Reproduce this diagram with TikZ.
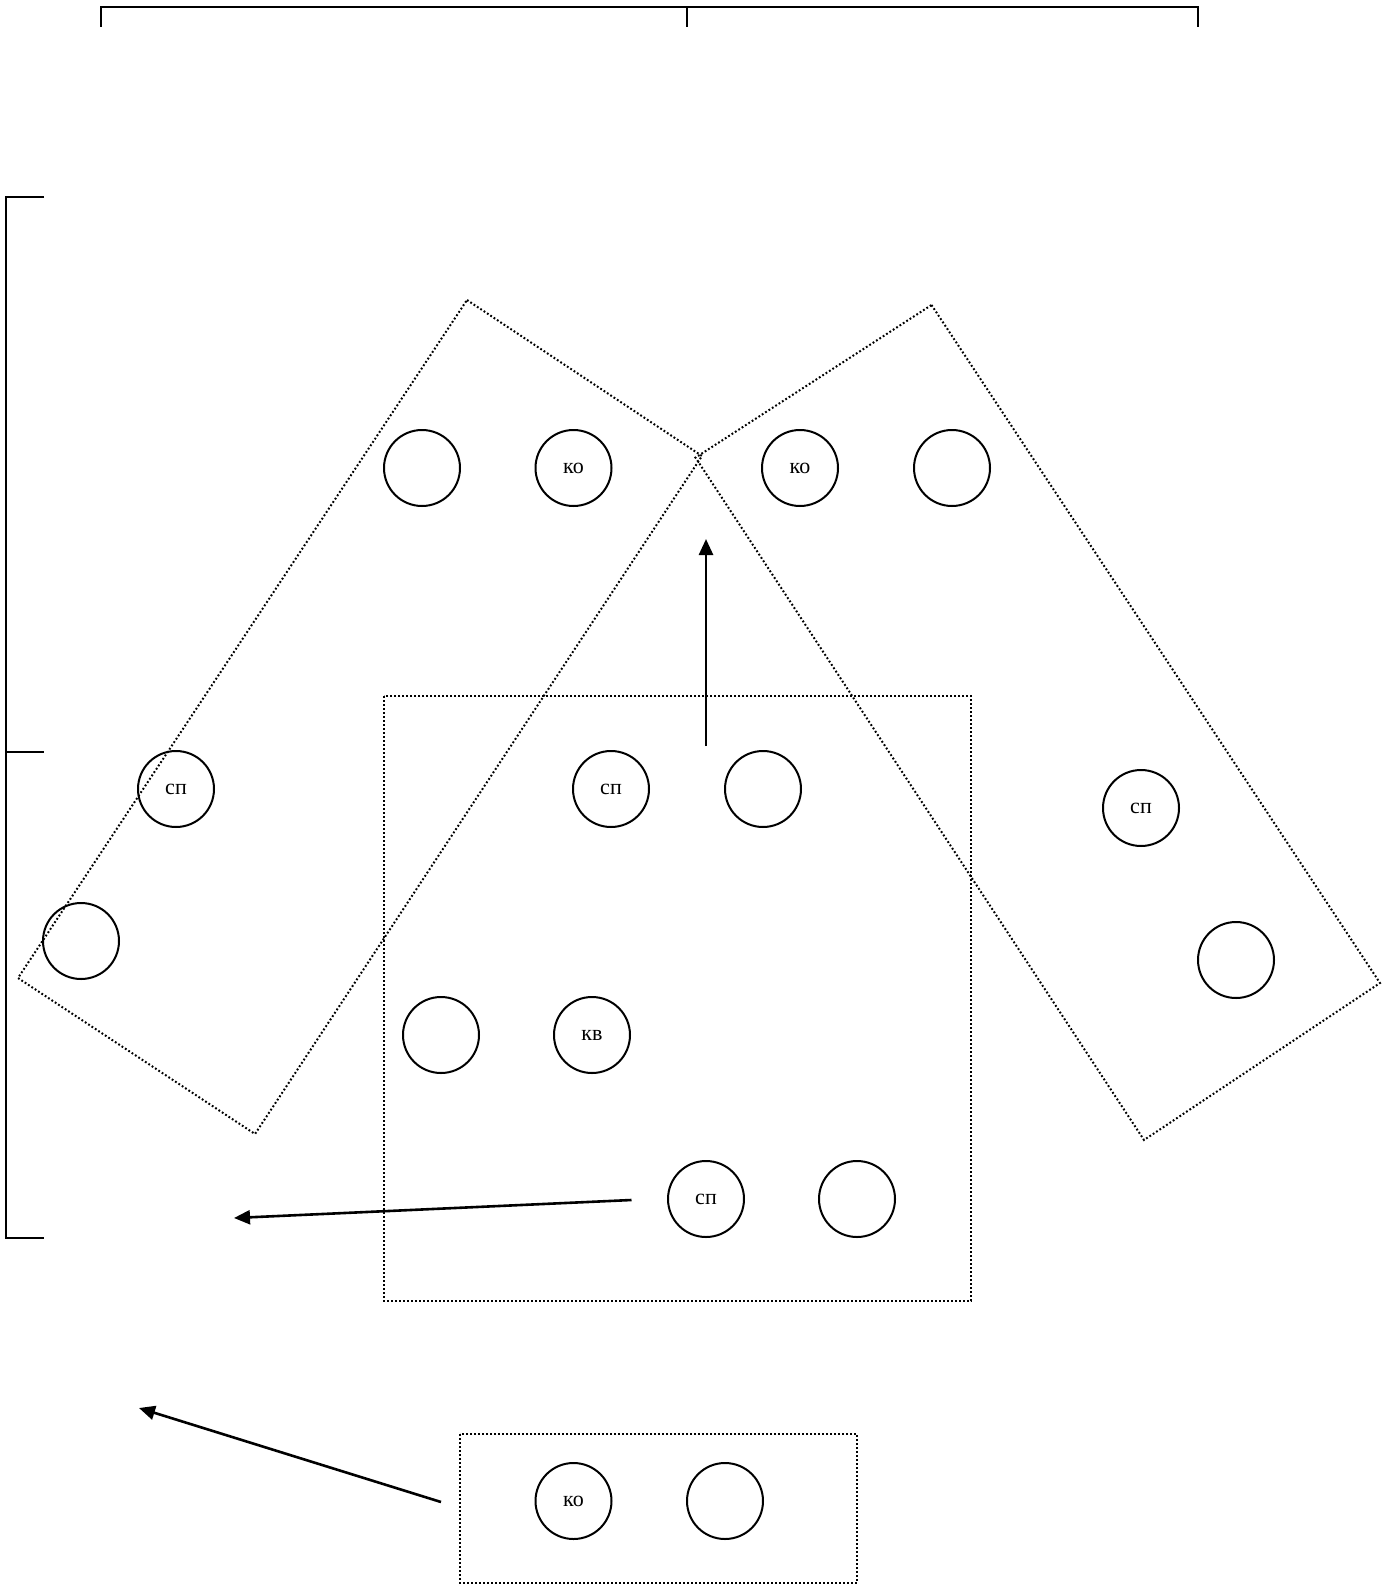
\documentclass[tikz,border=0pt]{standalone}
\usepackage{fontspec}
\setmainfont{Liberation Serif}
\usetikzlibrary{arrows.meta}
\tikzset{
  px/.style={x=0.5pt,y=-0.5pt},
  ring/.style={circle,draw,line width=1pt,minimum size=38pt,inner sep=0pt,font=\fontsize{11}{13}\selectfont},
  zone/.style={line width=1pt,dash pattern=on 0.9pt off 1.1pt},
  brk/.style={line width=1pt},
  mov/.style={line width=1.3pt,-{Triangle[length=8pt,width=7pt]}}
}
\begin{document}
\begin{tikzpicture}[px]
\useasboundingbox (0,0) rectangle (1381,1595);
% brackets
\draw[brk] (100.5,27) -- (100.5,7) -- (1198,7) -- (1198,27);
\draw[brk] (686.5,7) -- (686.5,27);
\draw[brk] (44,197) -- (6,197) -- (6,1238) -- (44,1238);
\draw[brk] (6,752) -- (44,752);
% dotted zones
\draw[zone] (467,300) -- (702,456) -- (255,1134) -- (18,978) -- cycle;
\draw[zone] (931.5,305) -- (1380,983) -- (1144,1140) -- (695.5,457.6) -- cycle;
\draw[zone] (384,696) rectangle (971,1301);
\draw[zone] (460,1434) rectangle (857,1583);
% circles
\node[ring] (c1) at (422,468) {};
\node[ring] (c2) at (573.5,468) {ко};
\node[ring] (c3) at (800,468) {ко};
\node[ring] (c4) at (952,468) {};
\node[ring] (c5) at (176,789) {сп};
\node[ring] (c6) at (81,941) {};
\node[ring] (c7) at (611,789) {сп};
\node[ring] (c8) at (763,789) {};
\node[ring] (c9) at (1141,808) {сп};
\node[ring] (c10) at (1236,960) {};
\node[ring] (c11) at (441,1035) {};
\node[ring] (c12) at (592,1035) {кв};
\node[ring] (c13) at (706,1199) {сп};
\node[ring] (c14) at (857,1199) {};
\node[ring] (c15) at (573.5,1501) {ко};
\node[ring] (c16) at (725,1501) {};
% arrows
\coordinate (a1s) at (706,746);
\coordinate (a1e) at (706,539);
\coordinate (a2s) at (631.5,1200);
\coordinate (a2e) at (234,1218);
\coordinate (a3s) at (441,1502);
\coordinate (a3e) at (139,1408);
\draw[mov] (a1s) -- (a1e);
\draw[mov] (a2s) -- (a2e);
\draw[mov] (a3s) -- (a3e);
\end{tikzpicture}
\end{document}
